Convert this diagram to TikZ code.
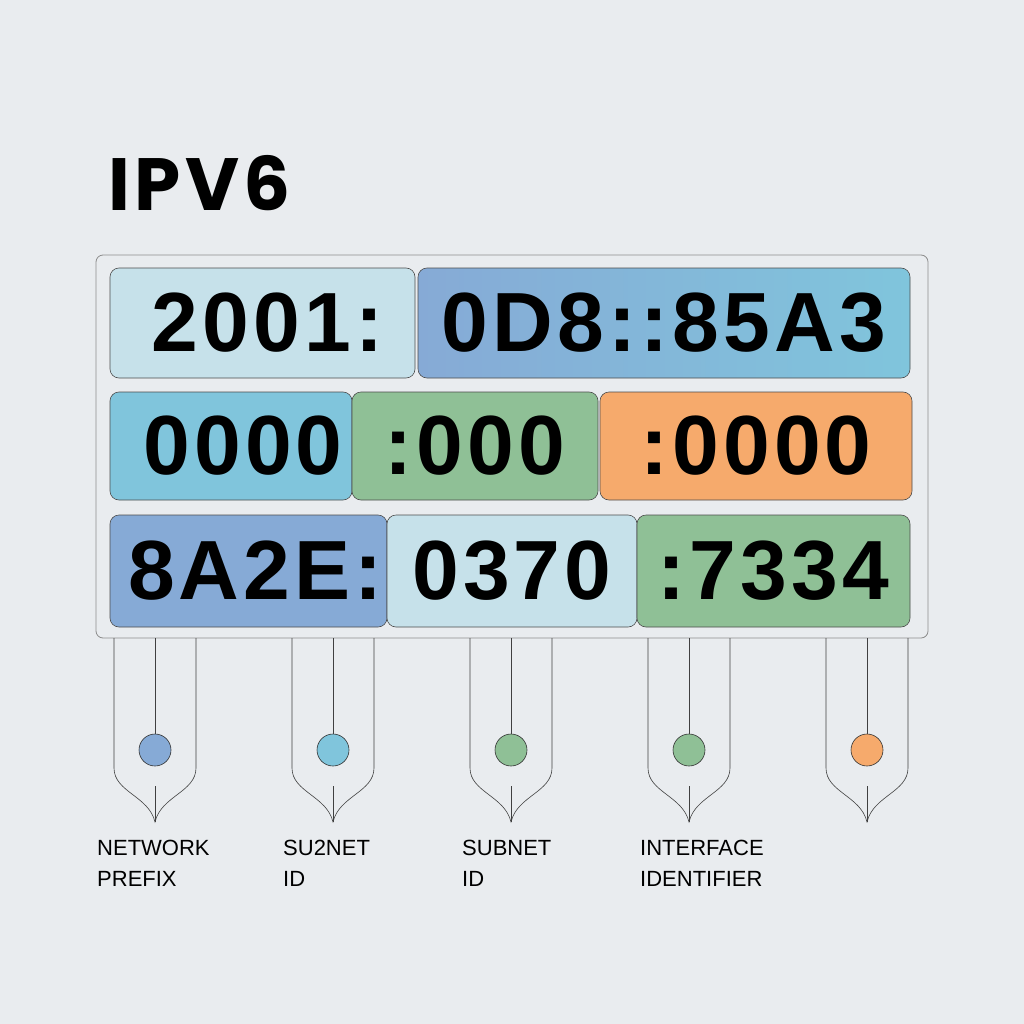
\documentclass[tikz,border=0pt]{standalone}
\usepackage{fontspec}
\setmainfont{Liberation Sans}
\newfontfamily\titlefont{Poppins}[LetterSpace=6]
\newfontfamily\digitfont{Liberation Sans}[LetterSpace=5]
\definecolor{bggray}{HTML}{E9ECEF}
\definecolor{palesky}{HTML}{C6E1EA}
\definecolor{steelblue}{HTML}{86AAD6}
\definecolor{skyblue}{HTML}{80C5DC}
\definecolor{sagegreen}{HTML}{8FC096}
\definecolor{peach}{HTML}{F6AA6C}
\tikzset{
  segbox/.style={draw=black!70, line width=0.6pt, rounded corners=9pt, inner sep=0pt,
    font=\digitfont\bfseries\fontsize{84}{84}\selectfont},
  pin/.style={draw=black!75, line width=0.6pt},
  dot/.style={circle, draw=black!80, line width=0.6pt, minimum size=32pt, inner sep=0pt},
  tag/.style={anchor=north west, align=left, inner sep=0pt, font=\fontsize{22}{31}\selectfont}
}

\begin{document}
\begin{tikzpicture}[x=1pt,y=-1pt]
\fill[bggray] (0,0) rectangle (1024,1024);
\useasboundingbox (0,0) rectangle (1024,1024);

\node[anchor=west, inner sep=0pt, font=\titlefont\bfseries\fontsize{74}{74}\selectfont] (title) at (108,183) {IPV6};

\node[draw=black!45, line width=0.8pt, rounded corners=7pt, minimum width=832pt, minimum height=383pt] (frame) at (512,446.5) {};

\node[segbox, fill=palesky, minimum width=305pt, minimum height=110pt] (r1a) at (262.5,323) {\hspace{10pt}2001:};
\node[segbox, left color=steelblue, right color=skyblue, minimum width=492pt, minimum height=110pt] (r1b) at (664,323) {0D8::85A3};

\node[segbox, fill=skyblue, minimum width=242pt, minimum height=108pt] (r2a) at (231,446) {\hspace{24pt}0000};
\node[segbox, fill=sagegreen, minimum width=246pt, minimum height=108pt] (r2b) at (475,446) {:000};
\node[segbox, fill=peach, minimum width=312pt, minimum height=108pt] (r2c) at (756,446) {:0000};

\node[segbox, fill=steelblue, minimum width=277pt, minimum height=112pt] (r3a) at (248.5,571) {\hspace{14pt}8A2E:};
\node[segbox, fill=palesky, minimum width=250pt, minimum height=112pt] (r3b) at (512,571) {0370};
\node[segbox, fill=sagegreen, minimum width=273pt, minimum height=112pt] (r3c) at (773.5,571) {:7334\hspace{14pt}};

\foreach \cx/\col/\nm in {155/steelblue/d1, 333/skyblue/d2, 511/sagegreen/d3, 689/sagegreen/d4, 867/peach/d5}{
  \node[dot, fill=\col] (\nm) at (\cx,750) {};
  \draw[pin] (\nm |- frame.south) -- (\nm.north);
  \draw[pin] (\cx-41,638) -- (\cx-41,768) .. controls (\cx-41,792) and (\cx-6,796) .. (\cx,822)
    .. controls (\cx+6,796) and (\cx+41,792) .. (\cx+41,768) -- (\cx+41,638);
  \draw[pin] (\cx,786) -- (\cx,822);
}

\node[tag] (lab1) at (97,840) {NETWORK\\PREFIX};
\node[tag] (lab2) at (283,840) {SU2NET\\ID};
\node[tag] (lab3) at (462,840) {SUBNET\\ID};
\node[tag] (lab4) at (640,840) {INTERFACE\\IDENTIFIER};
\end{tikzpicture}
\end{document}
